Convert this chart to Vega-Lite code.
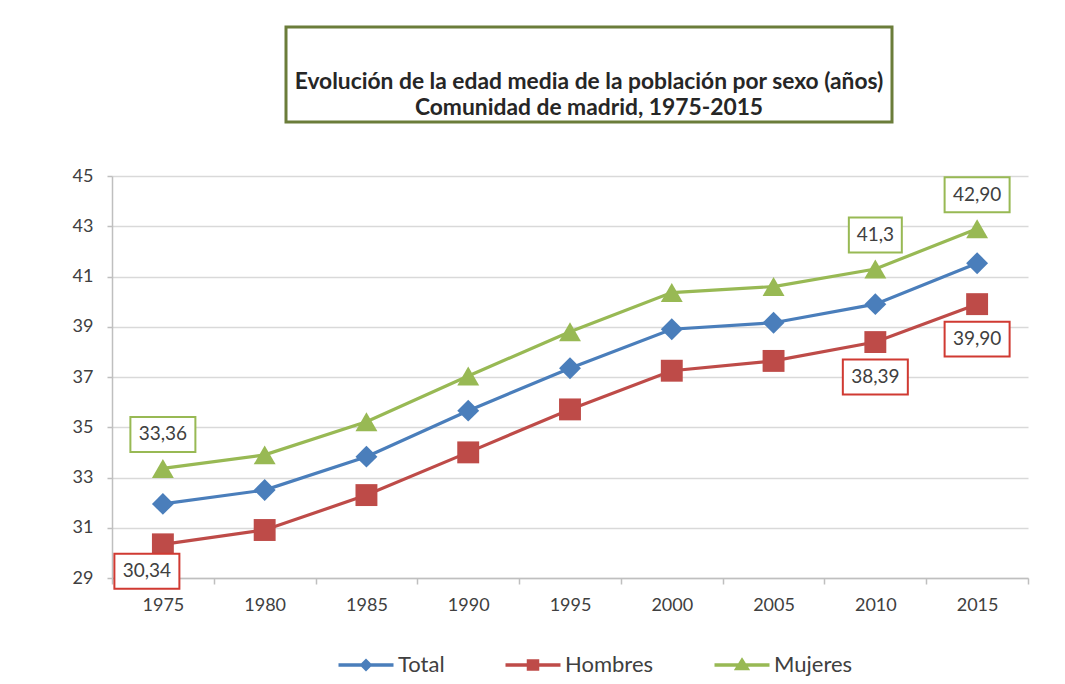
{
  "$schema": "https://vega.github.io/schema/vega-lite/v6.json",
  "background": "white",
  "padding": {"top": 25, "left": 72, "right": 20, "bottom": 0},
  "spacing": 43,
  "datasets": {
    "edad": [
      {"year": "1975", "serie": "Total", "edad": 31.95},
      {"year": "1980", "serie": "Total", "edad": 32.5},
      {"year": "1985", "serie": "Total", "edad": 33.83},
      {"year": "1990", "serie": "Total", "edad": 35.66},
      {"year": "1995", "serie": "Total", "edad": 37.35},
      {"year": "2000", "serie": "Total", "edad": 38.9},
      {"year": "2005", "serie": "Total", "edad": 39.16},
      {"year": "2010", "serie": "Total", "edad": 39.9},
      {"year": "2015", "serie": "Total", "edad": 41.53},
      {"year": "1975", "serie": "Hombres", "edad": 30.34},
      {"year": "1980", "serie": "Hombres", "edad": 30.91},
      {"year": "1985", "serie": "Hombres", "edad": 32.3},
      {"year": "1990", "serie": "Hombres", "edad": 34.0},
      {"year": "1995", "serie": "Hombres", "edad": 35.71},
      {"year": "2000", "serie": "Hombres", "edad": 37.25},
      {"year": "2005", "serie": "Hombres", "edad": 37.64},
      {"year": "2010", "serie": "Hombres", "edad": 38.39},
      {"year": "2015", "serie": "Hombres", "edad": 39.9},
      {"year": "1975", "serie": "Mujeres", "edad": 33.36},
      {"year": "1980", "serie": "Mujeres", "edad": 33.9},
      {"year": "1985", "serie": "Mujeres", "edad": 35.22},
      {"year": "1990", "serie": "Mujeres", "edad": 37.04},
      {"year": "1995", "serie": "Mujeres", "edad": 38.8},
      {"year": "2000", "serie": "Mujeres", "edad": 40.36},
      {"year": "2005", "serie": "Mujeres", "edad": 40.6},
      {"year": "2010", "serie": "Mujeres", "edad": 41.3},
      {"year": "2015", "serie": "Mujeres", "edad": 42.9}
    ],
    "etiquetas": [
      {"year": "1975", "serie": "Mujeres", "edad": 33.36, "etiqueta": "33,36"},
      {"year": "2010", "serie": "Mujeres", "edad": 41.3, "etiqueta": "41,3"},
      {"year": "2015", "serie": "Mujeres", "edad": 42.9, "etiqueta": "42,90"},
      {"year": "1975", "serie": "Hombres", "edad": 30.34, "etiqueta": "30,34"},
      {"year": "2010", "serie": "Hombres", "edad": 38.39, "etiqueta": "38,39"},
      {"year": "2015", "serie": "Hombres", "edad": 39.9, "etiqueta": "39,90"}
    ]
  },
  "config": {
    "font": "Lato",
    "view": {"stroke": null},
    "axis": {"labelFont": "Lato", "labelFontSize": 18, "labelColor": "#404040", "domainColor": "#bfbfbf", "tickColor": "#bfbfbf", "domainWidth": 1.5, "tickWidth": 1.5, "gridColor": "#d9d9d9", "gridWidth": 1.5}
  },
  "vconcat": [
    {
      "hconcat": [
        {
          "width": 152,
          "height": 95,
          "data": {"values": [{"t": ""}]},
          "mark": {"type": "text"},
          "encoding": {"text": {"field": "t"}}
        },
        {
          "width": 606,
          "height": 95,
          "view": {"stroke": "#6b7d3a", "strokeWidth": 3},
          "data": {"values": [{"t": ""}]},
          "mark": {"type": "text", "text": ["Evolución de la edad media de la población por sexo (años)", "Comunidad de madrid, 1975-2015"], "font": "Lato", "fontWeight": "bold", "fontSize": 22.8, "color": "#262626", "lineHeight": 26, "dy": 7, "baseline": "middle"},
          "encoding": {}
        }
      ],
      "spacing": 20
    },
    {
      "width": 916,
      "height": 402,
      "data": {"name": "edad"},
      "resolve": {"scale": {"color": "independent", "shape": "independent", "stroke": "independent"}},
      "encoding": {
        "x": {"field": "year", "type": "ordinal", "title": null,
              "scale": {"type": "band", "paddingInner": 0, "paddingOuter": 0},
              "axis": {"labelAngle": 0, "tickBand": "extent", "tickSize": 6, "labelPadding": 12, "grid": false}},
        "y": {"field": "edad", "type": "quantitative", "title": null,
              "scale": {"domain": [29, 45], "nice": false, "zero": false},
              "axis": {"values": [29, 31, 33, 35, 37, 39, 41, 43, 45], "tickSize": 5, "labelPadding": 14, "grid": true}}
      },
      "layer": [
        {"mark": {"type": "line", "strokeWidth": 3.2},
         "encoding": {"color": {"field": "serie", "type": "nominal", "legend": null,
                                "scale": {"domain": ["Total", "Hombres", "Mujeres"], "range": ["#4a7ebb", "#be4b48", "#98b954"]}}}},
        {"mark": {"type": "point", "filled": true, "size": 480, "opacity": 1},
         "encoding": {"color": {"field": "serie", "type": "nominal", "legend": null,
                                "scale": {"domain": ["Total", "Hombres", "Mujeres"], "range": ["#4a7ebb", "#be4b48", "#98b954"]}},
                      "shape": {"field": "serie", "type": "nominal", "legend": null,
                                "scale": {"domain": ["Total", "Hombres", "Mujeres"], "range": ["diamond", "square", "triangle-up"]}}}},
        {"mark": {"type": "point", "filled": true, "size": 400, "opacity": 0, "strokeWidth": 3.5},
         "encoding": {"color": {"field": "serie", "type": "nominal",
                                "scale": {"domain": ["Total", "Hombres", "Mujeres"], "range": ["#4a7ebb", "#be4b48", "#98b954"]},
                                "legend": {
                                  "orient": "none", "legendX": 242, "legendY": 477, "padding": 0,
                                  "title": null, "direction": "horizontal",
                                  "symbolSize": 400, "symbolStrokeWidth": 3.5, "symbolOpacity": 1,
                                  "labelFontSize": 22, "labelColor": "#404040", "labelFont": "Lato",
                                  "labelOffset": 20, "columnPadding": 53}},
                      "stroke": {"field": "serie", "type": "nominal",
                                 "scale": {"domain": ["Total", "Hombres", "Mujeres"], "range": ["#4a7ebb", "#be4b48", "#98b954"]}},
                      "shape": {"field": "serie", "type": "nominal",
                                "scale": {"domain": ["Total", "Hombres", "Mujeres"], "range": [
                                  "M-2.75,0H2.75M0,-0.4L0.4,0L0,0.4L-0.4,0ZM0,-0.4V0.4",
                                  "M-2.75,0H2.75M-0.45,-0.4H0.45V0.4H-0.45ZM-0.45,-0.2H0.45M-0.45,0.2H0.45",
                                  "M-2.75,0H2.75M0,-0.45L0.5,0.35L-0.5,0.35ZM0,-0.3V0.35"]}}}},
        {"data": {"name": "etiquetas"},
         "transform": [{"filter": "datum.serie === 'Mujeres'"}],
         "mark": {"type": "point", "filled": false, "fill": "white", "strokeWidth": 2, "size": 4225, "opacity": 1, "yOffset": -34},
         "encoding": {"color": {"field": "serie", "type": "nominal", "legend": null,
                                "scale": {"domain": ["Total", "Hombres", "Mujeres"], "range": ["#4a7ebb", "#d03a32", "#98b954"]}},
                      "shape": {"condition": {"test": "length(datum.etiqueta) < 5", "value": "M-0.815,-0.538H0.815V0.538H-0.815Z"}, "value": "M-1,-0.538H1V0.538H-1Z"}}},
        {"data": {"name": "etiquetas"},
         "transform": [{"filter": "datum.serie === 'Hombres' && datum.year !== '1975'"}],
         "mark": {"type": "point", "filled": false, "fill": "white", "strokeWidth": 2, "size": 4225, "opacity": 1, "yOffset": 35},
         "encoding": {"color": {"field": "serie", "type": "nominal", "legend": null,
                                "scale": {"domain": ["Total", "Hombres", "Mujeres"], "range": ["#4a7ebb", "#d03a32", "#98b954"]}},
                      "shape": {"value": "M-1,-0.538H1V0.538H-1Z"}}},
        {"data": {"name": "etiquetas"},
         "transform": [{"filter": "datum.serie === 'Hombres' && datum.year === '1975'"}],
         "mark": {"type": "point", "filled": false, "fill": "white", "strokeWidth": 2, "size": 4225, "opacity": 1, "xOffset": -16, "yOffset": 27},
         "encoding": {"color": {"field": "serie", "type": "nominal", "legend": null,
                                "scale": {"domain": ["Total", "Hombres", "Mujeres"], "range": ["#4a7ebb", "#d03a32", "#98b954"]}},
                      "shape": {"value": "M-1,-0.538H1V0.538H-1Z"}}},
        {"data": {"name": "etiquetas"},
         "transform": [{"filter": "datum.serie === 'Mujeres'"}],
         "mark": {"type": "text", "fontSize": 19, "baseline": "middle", "yOffset": -34, "color": "#404040"},
         "encoding": {"text": {"field": "etiqueta"}}},
        {"data": {"name": "etiquetas"},
         "transform": [{"filter": "datum.serie === 'Hombres' && datum.year !== '1975'"}],
         "mark": {"type": "text", "fontSize": 19, "baseline": "middle", "yOffset": 35, "color": "#404040"},
         "encoding": {"text": {"field": "etiqueta"}}},
        {"data": {"name": "etiquetas"},
         "transform": [{"filter": "datum.serie === 'Hombres' && datum.year === '1975'"}],
         "mark": {"type": "text", "fontSize": 19, "baseline": "middle", "xOffset": -16, "yOffset": 27, "color": "#404040"},
         "encoding": {"text": {"field": "etiqueta"}}}
      ]
    }
  ]
}
